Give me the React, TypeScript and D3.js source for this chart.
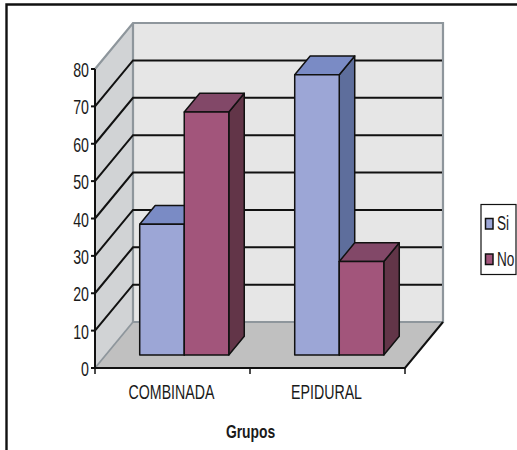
import React from "react";
import * as d3 from "d3";

// Survey counts per group, with Si / No answers
const categories = ["COMBINADA", "EPIDURAL"];
const seriesNames = ["Si", "No"];
const siValues = [35, 75];
const noValues = [65, 25];
const yTicks = [0, 10, 20, 30, 40, 50, 60, 70, 80];
const xTitle = "Grupos";

const FONT = "'Liberation Sans', Arial, sans-serif";
const TEXT_SIZE = 20;
const TEXT_SQUEEZE = 0.71;

const palette: Record<string, { front: string; top: string; side: string }> = {
  Si: { front: "#9ca6d6", top: "#7a8bc5", side: "#5e6e9c" },
  No: { front: "#a2557b", top: "#824868", side: "#623548" },
};

// Oblique projection of the chart floor: full depth shifts right and up
const DEPTH_X = 38;
const DEPTH_Y = 46;
const BAR_NEAR = 0.283;
const BAR_FAR = 0.69;
const BAR_NUDGE = 1;

const y = d3.scaleLinear().domain([0, 80]).range([368, 69]);
const x0 = d3.scaleBand<string>().domain(categories).range([95, 405]);
const x1 = d3
  .scaleBand<string>()
  .domain(seriesNames)
  .range([0, x0.bandwidth()])
  .paddingInner(0)
  .paddingOuter(0.74);

const project = (px: number, py: number, depth: number): [number, number] => [
  px + DEPTH_X * depth,
  py - DEPTH_Y * depth,
];
const poly = (pts: [number, number][]) => d3.line()(pts)! + "Z";

function Label(props: {
  x: number;
  y: number;
  anchor: "start" | "middle" | "end";
  size?: number;
  squeeze?: number;
  bold?: boolean;
  children: string;
}) {
  const { size = TEXT_SIZE, squeeze = TEXT_SQUEEZE } = props;
  return (
    <text
      transform={`translate(${props.x},${props.y}) scale(${squeeze},1)`}
      fontFamily={FONT}
      fontSize={size}
      fontWeight={props.bold ? "bold" : "normal"}
      textAnchor={props.anchor}
      fill="#1a1a1a"
    >
      {props.children}
    </text>
  );
}

function Bar({ cat, name, value }: { cat: string; name: string; value: number }) {
  const left = x0(cat)! + x1(name)! + BAR_NUDGE;
  const right = left + x1.bandwidth();
  const c = palette[name];
  const n = (px: number, v: number) => project(px, y(v), BAR_NEAR);
  const f = (px: number, v: number) => project(px, y(v), BAR_FAR);
  const stroke = { stroke: "#111", strokeWidth: 1.5, strokeLinejoin: "round" as const };
  return (
    <g>
      <path
        d={poly([n(right, 0), f(right, 0), f(right, value), n(right, value)])}
        fill={c.side}
        {...stroke}
      />
      <path
        d={poly([n(left, value), n(right, value), f(right, value), f(left, value)])}
        fill={c.top}
        {...stroke}
      />
      <path
        d={poly([n(left, 0), n(right, 0), n(right, value), n(left, value)])}
        fill={c.front}
        {...stroke}
      />
    </g>
  );
}

export default function App() {
  const [xL, xR] = x0.range();
  const top = y(80);
  const base = y(0);
  const back = (px: number, v: number) => project(px, y(v), 1);
  const xBoundaries = [xL, xL + x0.step(), xR];
  return (
    <svg
      width={517}
      height={450}
      style={{ position: "absolute", left: 0, top: 0, display: "block", background: "#fff" }}
    >
      <path d="M6.5,450V4.5H517" fill="none" stroke="#111" strokeWidth={2.4} />

      {/* walls and floor */}
      <path d={poly([back(xL, 0), back(xR, 0), back(xR, 80), back(xL, 80)])} fill="#e6e6e6" />
      <path d={poly([[xL, base], back(xL, 0), back(xL, 80), [xL, top]])} fill="#d1d3d5" />
      <path d={poly([[xL, base], [xR, base], back(xR, 0), back(xL, 0)])} fill="#c0c0c0" />

      {/* frame of the back wall */}
      <path
        d={d3.line()([[xL, top], back(xL, 80), back(xR, 80), back(xR, 0), back(xL, 0), back(xL, 80)])!}
        fill="none"
        stroke="#8e969c"
        strokeWidth={2.2}
      />
      <path
        d={d3.line()([[xL, base], back(xL, 0)])!}
        fill="none"
        stroke="#8e969c"
        strokeWidth={1.8}
      />

      {/* gridlines */}
      {yTicks
        .filter((t) => t > 0 && t < 80)
        .map((t) => (
          <path
            key={t}
            d={d3.line()([[xL, y(t)], back(xL, t), [back(xR, t)[0] - 1, back(xR, t)[1]]])!}
            fill="none"
            stroke="#111"
            strokeWidth={2}
          />
        ))}

      {/* bars */}
      {categories.map((cat, i) => (
        <g key={cat}>
          <Bar cat={cat} name="Si" value={siValues[i]} />
          <Bar cat={cat} name="No" value={noValues[i]} />
        </g>
      ))}

      {/* axes */}
      <path
        d={d3.line()([[xL, top], [xL, base], [xR, base], back(xR, 0)])!}
        fill="none"
        stroke="#111"
        strokeWidth={2}
      />
      {yTicks.map((t) => (
        <g key={t}>
          <line x1={xL - 4} x2={xL} y1={y(t)} y2={y(t)} stroke="#111" strokeWidth={2} />
          <Label x={xL - 6} y={y(t) + 8} anchor="end">
            {String(t)}
          </Label>
        </g>
      ))}
      {xBoundaries.map((bx) => (
        <line key={bx} x1={bx} x2={bx} y1={base} y2={base + 6} stroke="#111" strokeWidth={1.5} />
      ))}
      {categories.map((cat) => (
        <Label key={cat} x={x0(cat)! + x0.bandwidth() / 2 - 1} y={399} anchor="middle">
          {cat}
        </Label>
      ))}
      <Label x={250.5} y={438} size={18} squeeze={0.77} anchor="middle" bold>
        {xTitle}
      </Label>

      {/* legend */}
      <rect x={481} y={204.5} width={35} height={70} fill="#fff" stroke="#111" strokeWidth={1.2} />
      {seriesNames.map((name, i) => (
        <g key={name}>
          <rect
            x={485.5}
            y={218.5 + i * 35.5}
            width={7.5}
            height={10.5}
            fill={palette[name].front}
            stroke="#111"
            strokeWidth={1.5}
          />
          <Label x={497} y={230 + i * 35.5} squeeze={0.68} anchor="start">
            {name}
          </Label>
        </g>
      ))}
    </svg>
  );
}
